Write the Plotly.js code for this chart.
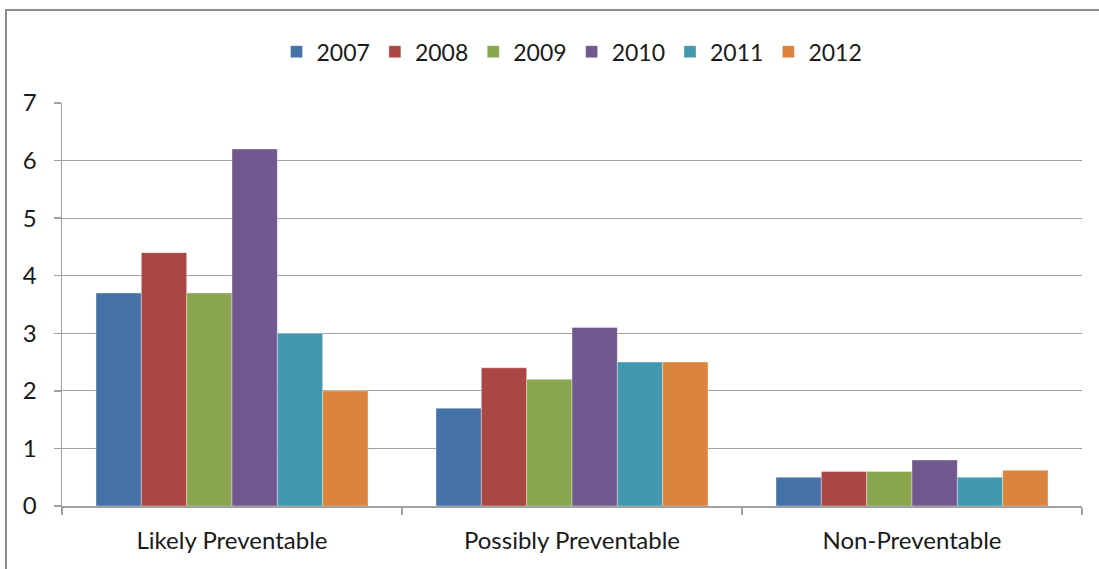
<!DOCTYPE html>
<html>
<head>
<meta charset="utf-8">
<script src="https://cdn.plot.ly/plotly-3.0.1.min.js"></script>
<style>
html,body{margin:0;padding:0;background:#fff;}
#wrap{position:relative;width:1099px;height:569px;overflow:hidden;}
#chart{position:absolute;left:0;top:0;width:1099px;height:569px;}
#frame{position:absolute;left:5px;top:9px;width:1200px;height:700px;border-left:2px solid #8c8c8c;border-top:2px solid #8c8c8c;pointer-events:none;}
</style>
</head>
<body>
<div id="wrap"><div id="chart"></div><div id="frame"></div></div>
<script>
const categories = ["Likely Preventable", "Possibly Preventable", "Non-Preventable"];
const years = ["2007", "2008", "2009", "2010", "2011", "2012"];
const v2007 = [3.7, 1.7, 0.5];
const v2008 = [4.4, 2.4, 0.6];
const v2009 = [3.7, 2.2, 0.6];
const v2010 = [6.2, 3.1, 0.8];
const v2011 = [3.0, 2.5, 0.5];
const v2012 = [2.0, 2.5, 0.62];
const yTicks = [0, 1, 2, 3, 4, 5, 6, 7];

const series = [v2007, v2008, v2009, v2010, v2011, v2012];
const colors = ["#4572A7", "#AA4643", "#89A54E", "#71588F", "#4198AF", "#DB843D"];

const traces = series.map((vals, i) => ({
  type: "bar",
  name: years[i],
  x: categories,
  y: vals,
  marker: {color: colors[i], line: {color: "rgba(255,255,255,0.6)", width: 0.6}},
  hoverinfo: "skip"
}));

const fam = "Lato, 'Open Sans', sans-serif";
const txt = "#1a1a1a";

const layout = {
  width: 1099, height: 569,
  margin: {l: 62, r: 17, t: 103, b: 63, pad: 0},
  paper_bgcolor: "rgba(0,0,0,0)",
  plot_bgcolor: "#fff",
  font: {family: fam, size: 24, color: txt},
  barmode: "group",
  bargap: 0.2,
  bargroupgap: 0,
  showlegend: true,
  legend: {orientation: "h", x: 0.5, xanchor: "center", y: 1.074, yanchor: "bottom",
           font: {family: fam, size: 23, color: txt}, itemwidth: 30, tracegroupgap: 0},
  xaxis: {
    type: "category",
    tickson: "boundaries",
    ticks: "outside", ticklen: 7, tickcolor: "#a0a0a0", tickwidth: 1.5,
    showline: true, linecolor: "#a0a0a0", linewidth: 1.5,
    showgrid: false,
    ticklabelstandoff: 13,
    tickfont: {family: fam, size: 24, color: txt},
    fixedrange: true
  },
  yaxis: {
    range: [0, 7],
    tickvals: yTicks,
    ticks: "outside", ticklen: 7, tickcolor: "#a0a0a0", tickwidth: 1.5,
    showline: true, linecolor: "#a0a0a0", linewidth: 1.5,
    showgrid: true, gridcolor: "#a0a0a0", gridwidth: 1.2,
    zeroline: false,
    ticklabelstandoff: 12,
    tickfont: {family: fam, size: 24, color: txt},
    fixedrange: true
  }
};

Plotly.newPlot("chart", traces, layout, {displayModeBar: false, staticPlot: true});
</script>
</body>
</html>
